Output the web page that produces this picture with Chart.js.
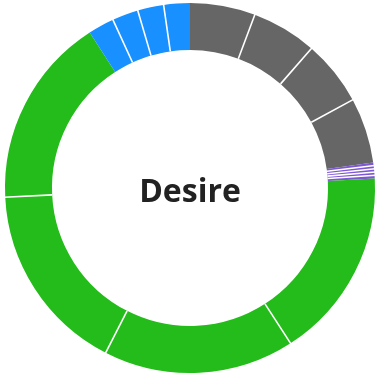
<!DOCTYPE html>
<html>
<head>
<meta charset="utf-8">
<script src="https://cdn.jsdelivr.net/npm/chart.js@4"></script>
<style>
  html, body { margin:0; padding:0; background:#fff; overflow:hidden; }
</style>
</head>
<body>
<canvas id="grafico" width="380" height="376"></canvas>
<script>
// segment groups, clockwise from the top
const grupos = ["Gray", "Gray", "Gray", "Gray",
  "Purple", "Purple", "Purple", "Purple", "Purple",
  "Green", "Green", "Green", "Green",
  "Blue", "Blue", "Blue", "Blue"];
const valores = [20.5, 20.5, 20.5, 20.5,
  1, 1, 1, 1, 1,
  60, 60, 60, 60,
  8.2, 8.2, 8.2, 8.2];
const cores = { Gray:"#666666", Purple:"#7e57d2", Green:"#24bc1b", Blue:"#1890ff" };
const titulo = "Desire";

// white lines only between slices of the same group + centre title
const separadores = {
  id: "separadores",
  afterDatasetsDraw(chart) {
    const ctx = chart.ctx;
    const arcs = chart.getDatasetMeta(0).data;
    ctx.save();
    ctx.strokeStyle = "#ffffff";
    ctx.lineWidth = 1.6;
    arcs.forEach((arc, i) => {
      if (i === 0 || grupos[i] !== grupos[i-1]) return;
      const a = arc.startAngle;
      ctx.beginPath();
      ctx.moveTo(arc.x + Math.cos(a)*arc.innerRadius, arc.y + Math.sin(a)*arc.innerRadius);
      ctx.lineTo(arc.x + Math.cos(a)*(arc.outerRadius+1), arc.y + Math.sin(a)*(arc.outerRadius+1));
      ctx.stroke();
    });
    const c = arcs[0];
    ctx.fillStyle = "#222222";
    ctx.font = "bold 32px 'Open Sans'";
    ctx.textAlign = "center";
    ctx.textBaseline = "middle";
    ctx.fillText(titulo, c.x, c.y + 5);
    ctx.restore();
  }
};

new Chart(document.getElementById("grafico"), {
  type: "doughnut",
  data: {
    labels: grupos,
    datasets: [{
      data: valores,
      backgroundColor: grupos.map(g => cores[g]),
      borderWidth: 0
    }]
  },
  options: {
    responsive: false,
    animation: false,
    cutout: "74.6%",
    layout: { padding: 3 },
    plugins: { legend: { display:false }, tooltip: { enabled:false } }
  },
  plugins: [separadores]
});
</script>
</body>
</html>
